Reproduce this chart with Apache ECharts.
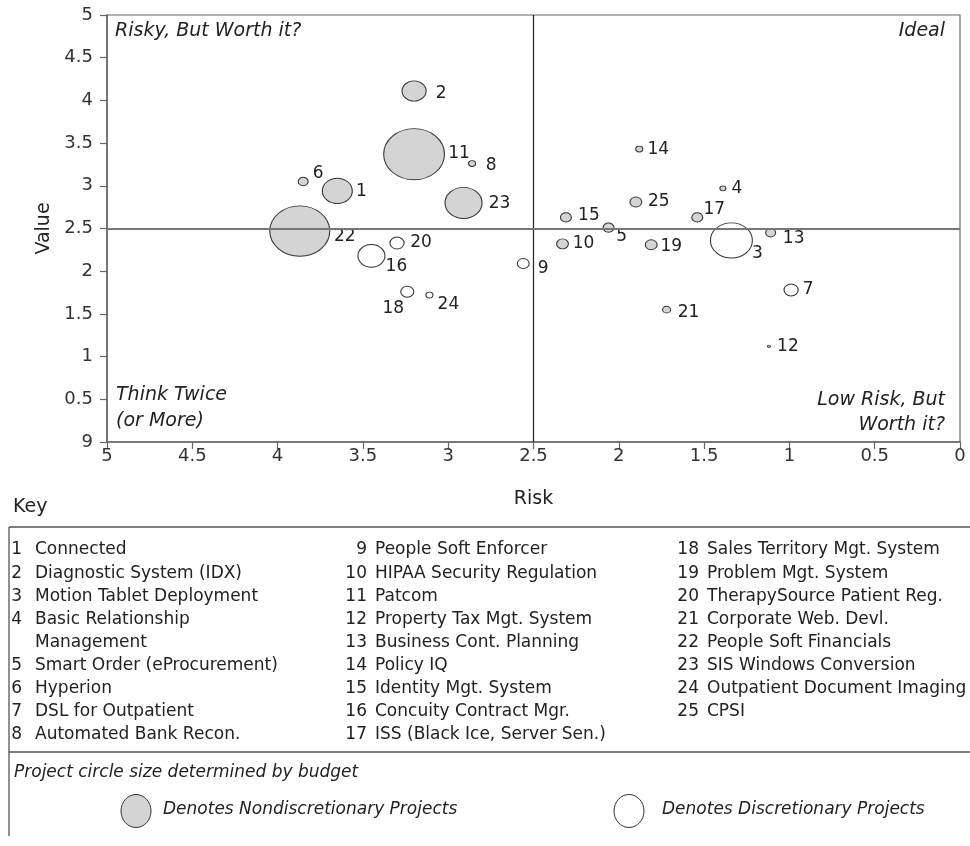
<!DOCTYPE html>
<html>
<head>
<meta charset="utf-8">
<script src="https://cdn.jsdelivr.net/npm/echarts@6/dist/echarts.min.js"></script>
<style>
html,body{margin:0;padding:0;background:#fff;}
#chart{width:970px;height:846px;}
</style>
</head>
<body>
<div id="chart"></div>
<script>
// ---------------- DATA ----------------
const projectIds = [1,2,3,4,5,6,7,8,9,10,11,12,13,14,15,16,17,18,19,20,21,22,23,24,25];
const projectNames = [
  'Connected','Diagnostic System (IDX)','Motion Tablet Deployment','Basic Relationship Management',
  'Smart Order (eProcurement)','Hyperion','DSL for Outpatient','Automated Bank Recon.',
  'People Soft Enforcer','HIPAA Security Regulation','Patcom','Property Tax Mgt. System',
  'Business Cont. Planning','Policy IQ','Identity Mgt. System','Concuity Contract Mgr.',
  'ISS (Black Ice, Server Sen.)','Sales Territory Mgt. System','Problem Mgt. System',
  'TherapySource Patient Reg.','Corporate Web. Devl.','People Soft Financials',
  'SIS Windows Conversion','Outpatient Document Imaging','CPSI'
];
const riskValues  = [3.65,3.20,1.34,1.39,2.06,3.85,0.99,2.86,2.56,2.33,3.20,1.12,1.11,1.88,2.31,3.45,1.54,3.24,1.81,3.30,1.72,3.87,2.91,3.11,1.90];
const valueValues = [2.94,4.11,2.36,2.97,2.51,3.05,1.78,3.26,2.09,2.32,3.37,1.12,2.45,3.43,2.63,2.18,2.63,1.76,2.31,2.33,1.55,2.47,2.80,1.72,2.81];
const budgetValues = [9,5.8,17.6,0.36,1.2,1.0,2.0,0.5,1.4,1.4,37,0.09,1.0,0.5,1.2,7.3,1.2,1.7,1.4,2.0,0.64,36,13.7,0.5,1.4];
const discretionary = [false,false,true,false,false,false,true,false,true,false,false,false,false,false,false,true,false,true,false,true,false,false,false,true,false];
const xTickLabels = ['0','0.5','1','1.5','2','2.5','3','3.5','4','4.5','5'];
const yTickLabels = ['9','0.5','1','1.5','2','2.5','3','3.5','4','4.5','5'];
const quadrantDivider = 2.5;

// ---------------- STYLE ----------------
const FONT = '"DejaVu Sans", "Noto Sans", sans-serif';
const TXT = '#222';
// label offset from bubble centre (px), per project id
const labelOffsets = {
  1:[24,1],2:[27,3],3:[26,13],4:[14,0],5:[13,9],6:[15,-8],7:[17,0],8:[19,2],9:[20,5],10:[21,0],
  11:[45,-1],12:[19,0],13:[23,6],14:[19,1],15:[23,-2],16:[25,11],17:[17,-8],18:[-14,17],19:[20,2],
  20:[24,0],21:[22,3],22:[45,6],23:[36,1],24:[19,9],25:[23,0]
};
function bubbleSize(val){ const w = 10*Math.sqrt(val[2]); return [w, w*0.84]; }

function buildData(flag){
  const out = [];
  projectIds.forEach((id,i)=>{
    if(discretionary[i]!==flag) return;
    out.push({
      name: projectNames[i],
      value:[riskValues[i], valueValues[i], budgetValues[i], id],
      label:{offset: labelOffsets[id]}
    });
  });
  out.sort((a,b)=>b.value[2]-a.value[2]);
  return out;
}

const labelCfg = {
  show:true, position:'inside', formatter:p=>String(p.value[3]),
  color:TXT, fontSize:17, fontFamily:FONT
};

// ---------------- KEY LAYOUT ----------------
const keyCols = [
  {ids:[1,2,3,4,5,6,7,8], numRight:22, nameLeft:35},
  {ids:[9,10,11,12,13,14,15,16,17], numRight:367, nameLeft:375},
  {ids:[18,19,20,21,22,23,24,25], numRight:699, nameLeft:707}
];
const keyWrap = {4:['Basic Relationship','Management']};
const keyRow0 = 550, keyRowH = 23.1;

const graphics = [];
function qText(x,y,text,align){
  graphics.push({type:'text',x:x,y:y,silent:true,z:10,
    style:{text:text,fill:TXT,font:'italic 19px '+FONT,textAlign:align,textVerticalAlign:'middle'}});
}
qText(115,31,'Risky, But Worth it?','left');
qText(945,31,'Ideal','right');
qText(116,395,'Think Twice','left');
qText(116,421,'(or More)','left');
qText(945,400,'Low Risk, But','right');
qText(945,425,'Worth it?','right');

graphics.push({type:'text',x:13,y:507,silent:true,style:{text:'Key',fill:TXT,font:'19px '+FONT,textVerticalAlign:'middle'}});
graphics.push({type:'line',silent:true,shape:{x1:9,y1:527,x2:970,y2:527},style:{stroke:'#555',lineWidth:1.3}});
graphics.push({type:'line',silent:true,shape:{x1:9,y1:527,x2:9,y2:836},style:{stroke:'#555',lineWidth:1.3}});
graphics.push({type:'line',silent:true,shape:{x1:9,y1:752,x2:970,y2:752},style:{stroke:'#555',lineWidth:1.3}});

keyCols.forEach(col=>{
  let row = 0;
  col.ids.forEach(id=>{
    const idx = projectIds.indexOf(id);
    const lines = keyWrap[id] || [projectNames[idx]];
    const y = keyRow0 + keyRowH*row;
    graphics.push({type:'text',x:col.numRight,y:y,silent:true,
      style:{text:String(id),fill:TXT,font:'17px '+FONT,textAlign:'right',textVerticalAlign:'middle'}});
    lines.forEach((ln,k)=>{
      graphics.push({type:'text',x:col.nameLeft,y:keyRow0+keyRowH*(row+k),silent:true,
        style:{text:ln,fill:TXT,font:'17px '+FONT,textAlign:'left',textVerticalAlign:'middle'}});
    });
    row += lines.length;
  });
});

graphics.push({type:'text',x:14,y:773,silent:true,style:{text:'Project circle size determined by budget',fill:TXT,font:'italic 17px '+FONT,textVerticalAlign:'middle'}});
graphics.push({type:'ellipse',silent:true,shape:{cx:136,cy:811,rx:15,ry:16.5},style:{fill:'#d4d4d4',stroke:'#333',lineWidth:1}});
graphics.push({type:'text',x:163,y:810,silent:true,style:{text:'Denotes Nondiscretionary Projects',fill:TXT,font:'italic 17px '+FONT,textVerticalAlign:'middle'}});
graphics.push({type:'ellipse',silent:true,shape:{cx:629,cy:811,rx:15,ry:16.5},style:{fill:'#fff',stroke:'#333',lineWidth:1}});
graphics.push({type:'text',x:662,y:810,silent:true,style:{text:'Denotes Discretionary Projects',fill:TXT,font:'italic 17px '+FONT,textVerticalAlign:'middle'}});

const axisCommon = {
  type:'value', min:0, max:5, interval:0.5,
  nameLocation:'middle',
  nameTextStyle:{fontSize:19,color:TXT,fontFamily:FONT},
  axisLine:{show:true,onZero:false,lineStyle:{color:'#666',width:1.5}},
  axisTick:{show:true,length:7,lineStyle:{color:'#666',width:1.2}},
  splitLine:{show:false}
};

const option = {
  animation:false,
  backgroundColor:'#fff',
  grid:{left:107,right:10,top:15,bottom:404,show:true,borderColor:'#666',borderWidth:1.2,backgroundColor:'transparent'},
  xAxis:Object.assign({},axisCommon,{
    inverse:true, name:'Risk', nameGap:48,
    axisLabel:{fontSize:18,color:'#333',fontFamily:FONT,margin:5,
      formatter:v=>xTickLabels[Math.round(v*2)]}
  }),
  yAxis:Object.assign({},axisCommon,{
    name:'Value', nameGap:53,
    axisLabel:{fontSize:18,color:'#333',fontFamily:FONT,margin:14,
      formatter:v=>yTickLabels[Math.round(v*2)]}
  }),
  series:[
    {
      type:'scatter', name:'dividers', data:[], z:1, silent:true,
      markLine:{
        silent:true, symbol:'none', label:{show:false}, animation:false,
        data:[
          {xAxis:quadrantDivider, lineStyle:{color:'#222',width:1.2,type:'solid'}},
          {yAxis:quadrantDivider, lineStyle:{color:'#777',width:2,type:'solid'}}
        ]
      }
    },
    {
      type:'scatter', name:'Nondiscretionary', z:3,
      symbol:'circle', symbolSize:bubbleSize,
      itemStyle:{color:'#d4d4d4',borderColor:'#333',borderWidth:1,opacity:1},
      label:labelCfg,
      data:buildData(false)
    },
    {
      type:'scatter', name:'Discretionary', z:3,
      symbol:'circle', symbolSize:bubbleSize,
      itemStyle:{color:'#ffffff',borderColor:'#333',borderWidth:1,opacity:1},
      label:labelCfg,
      data:buildData(true)
    }
  ],
  graphic:graphics
};

const chart = echarts.init(document.getElementById('chart'),null,{renderer:'canvas'});
chart.setOption(option);
</script>
</body>
</html>
